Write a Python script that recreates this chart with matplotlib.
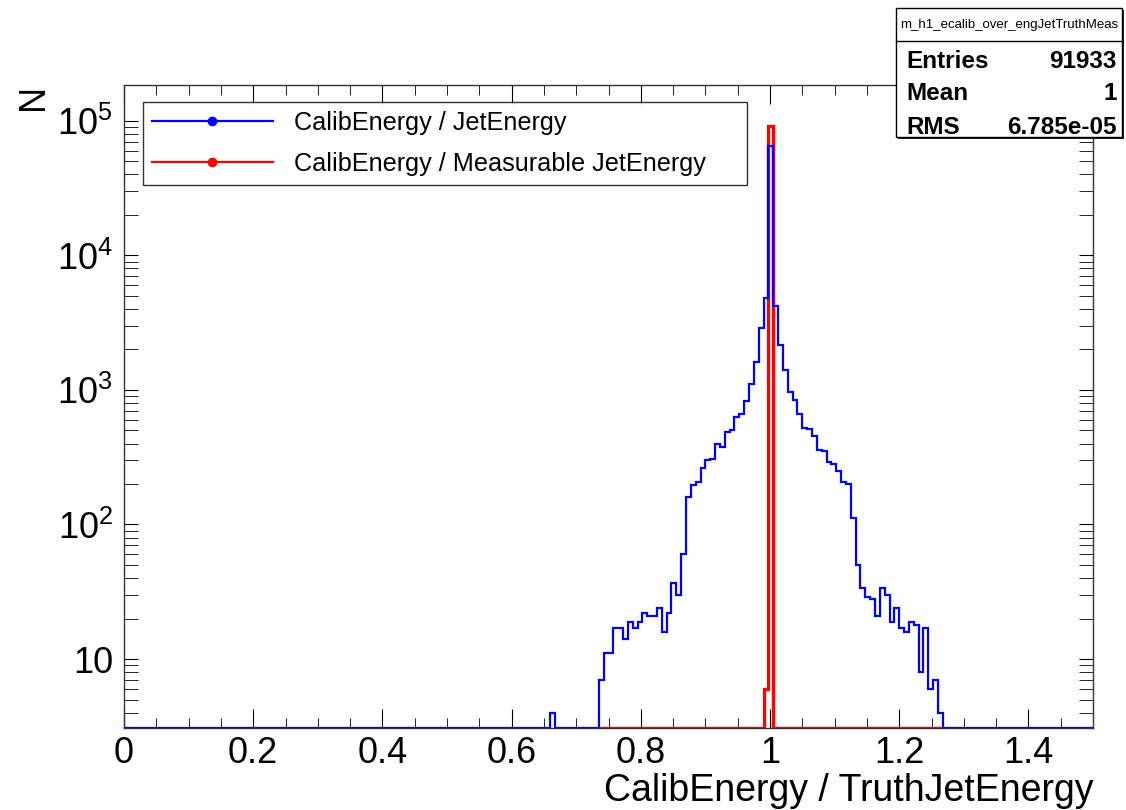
import numpy as np
import matplotlib
matplotlib.use("Agg")
import matplotlib.pyplot as plt
import matplotlib.ticker as ticker
from matplotlib.lines import Line2D
from matplotlib.patches import Rectangle

plt.rcParams['font.family'] = ['Liberation Sans', 'DejaVu Sans']
plt.rcParams['mathtext.fontset'] = 'custom'
plt.rcParams['mathtext.rm'] = 'Liberation Sans'

# histogram binning: 200 bins over [0, 1.5]
n_bins = 200
x_lo, x_hi = 0.0, 1.5

# blue: CalibEnergy / JetEnergy, counts from bin 88 (x=0.66) onward
blue_first_bin = 88
blue_counts = [4, 0, 0, 0, 0, 0, 0, 0, 0, 0,
               7, 11, 11, 17, 17, 14, 19, 17, 19, 22,
               21, 21, 24, 16, 22, 37, 30, 60, 160, 195,
               206, 264, 302, 307, 395, 379, 490, 505, 627, 664,
               828, 1100, 1624, 2877, 4807, 65200, 4237, 2175, 1400, 971,
               843, 664, 525, 512, 455, 358, 354, 293, 282, 250,
               206, 199, 112, 50, 34, 29, 28, 21, 34, 30,
               19, 24, 17, 16, 19, 18, 8, 17, 6, 7, 4]

# red: CalibEnergy / Measurable JetEnergy
red_first_bin = 132
red_counts = [6, 91927]
red_draw_range = (0.735, 1.2675)

stats_title = "m_h1_ecalib_over_engJetTruthMeas"
stats_names = ["Entries", "Mean", "RMS"]
stats_values = ["91933", "1", "6.785e-05"]

legend_labels = ["CalibEnergy / JetEnergy", "CalibEnergy / Measurable JetEnergy"]

y_min, y_max = 3.07, 1.85e5

edges = np.linspace(x_lo, x_hi, n_bins + 1)
blue_full = np.zeros(n_bins)
blue_full[blue_first_bin:blue_first_bin + len(blue_counts)] = blue_counts
red_full = np.zeros(n_bins)
red_full[red_first_bin:red_first_bin + len(red_counts)] = red_counts

W, H = 1126, 810
fig = plt.figure(figsize=(W / 100, H / 100), dpi=100)
ax = fig.add_axes([124 / W, 1 - 728 / H, (1093 - 124) / W, (728 - 85) / H])
ax.set_yscale('log')

ax.stairs(np.clip(blue_full, y_min, None), edges, color='#0000ff', lw=1.6,
          baseline=None, zorder=3)
i0 = np.searchsorted(edges, red_draw_range[0] - 1e-9)
i1 = np.searchsorted(edges, red_draw_range[1] - 1e-9)
ax.stairs(np.clip(red_full[i0:i1], y_min, None), edges[i0:i1 + 1], color='#ff0000',
          lw=2.4, baseline=None, zorder=2)

ax.set_xlim(x_lo, x_hi)
ax.set_ylim(y_min, y_max)

ax.xaxis.set_major_locator(ticker.MultipleLocator(0.2))
ax.xaxis.set_minor_locator(ticker.MultipleLocator(0.05))
ax.xaxis.set_major_formatter(ticker.FuncFormatter(lambda v, p: f"{v:g}"))
ax.yaxis.set_major_locator(ticker.LogLocator(base=10))
ax.yaxis.set_minor_locator(ticker.LogLocator(base=10, subs=np.arange(2, 10)))
ax.yaxis.set_minor_formatter(ticker.NullFormatter())
ax.yaxis.set_major_formatter(ticker.FuncFormatter(
    lambda v, p: "10" if abs(v - 10) < 1e-6 else f"$10^{{{int(round(np.log10(v)))}}}$"))

ax.tick_params(axis='x', which='both', direction='in', top=True, labelsize=26, pad=6)
ax.tick_params(axis='x', which='major', length=14)
ax.tick_params(axis='x', which='minor', length=7)
ax.tick_params(axis='y', which='both', direction='in', right=True, labelsize=26, pad=8,
               length=10)
for sp in ax.spines.values():
    sp.set_linewidth(1.0)
    sp.set_color('#333333')

# legend (ROOT style line + marker)
handles = [Line2D([], [], color='#0000ff', lw=1.6, marker='o', markersize=6),
           Line2D([], [], color='#ff0000', lw=1.6, marker='o', markersize=6)]
leg = ax.legend(handles, legend_labels, loc='upper left',
                bbox_to_anchor=((143 - 124) / 969, (728 - 184) / 643,
                                (747 - 143) / 969, (184 - 102) / 643),
                mode='expand', fontsize=18.2, frameon=True, fancybox=False,
                handlelength=4.8, handletextpad=0.85, borderpad=0.34, labelspacing=0.7,
                borderaxespad=0)
leg.get_frame().set_edgecolor('black')
leg.get_frame().set_linewidth(1.0)

# axis titles
fig.text(1093 / W, 1 - 801 / H, "CalibEnergy / TruthJetEnergy", ha='right', va='baseline',
         fontsize=27)
fig.text(33 / W, 1 - 97 / H, "N", rotation=90, ha='center', va='center', fontsize=26)

# stats box
bx0, bx1, by0, by1 = 896, 1122, 8, 137
fig.patches.append(Rectangle(((bx0 + 2) / W, 1 - (by1 + 2) / H), (bx1 - bx0) / W,
                             (by1 - by0) / H, transform=fig.transFigure,
                             facecolor='#222222', edgecolor='none', zorder=5))
fig.patches.append(Rectangle((bx0 / W, 1 - by1 / H), (bx1 - bx0) / W, (by1 - by0) / H,
                             transform=fig.transFigure, facecolor='white',
                             edgecolor='black', lw=1.0, zorder=6))
fig.lines.append(Line2D([bx0 / W, bx1 / W], [1 - 41 / H, 1 - 41 / H],
                        transform=fig.transFigure, color='black', lw=1.0, zorder=7))
fig.text((bx0 + bx1) / 2 / W, 1 - 25 / H, stats_title, ha='center', va='center',
         fontsize=9.5, zorder=8)
for k, (name, val) in enumerate(zip(stats_names, stats_values)):
    yy = 1 - (61 + 33 * k) / H
    fig.text(906 / W, yy, name, ha='left', va='center', fontsize=17.5, fontweight='bold',
             zorder=8)
    fig.text(1117 / W, yy, val, ha='right', va='center', fontsize=17.5, fontweight='bold',
             zorder=8)

fig.savefig("out.png", dpi=100)
